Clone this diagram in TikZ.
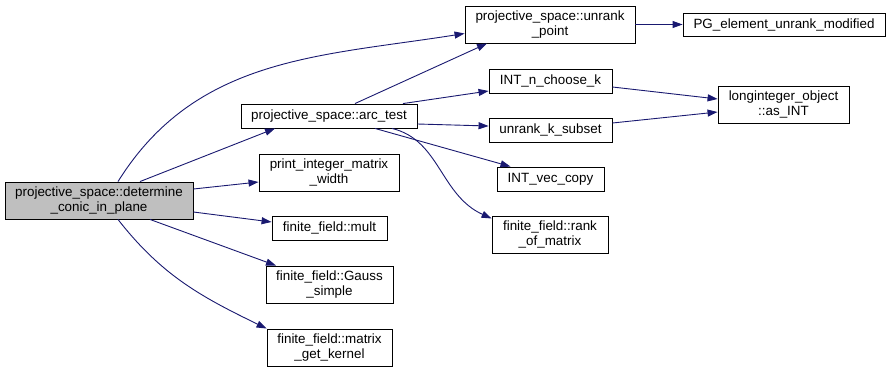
\documentclass[tikz,border=0pt]{standalone}
\usepackage{fontspec}
\setmainfont{Liberation Sans}
\usetikzlibrary{arrows.meta}
\definecolor{callblue}{HTML}{191970}
\definecolor{selgray}{HTML}{BFBFBF}
\begin{document}
\begin{tikzpicture}[x=1pt, y=1pt,
    fn/.style={draw=black, line width=0.9pt, fill=white, align=center, inner sep=2pt,
               font=\fontsize{13.4}{14.6}\selectfont},
    call/.style={draw=callblue, line width=0.9pt, -{Triangle[length=10pt,width=7pt]}}]
  \useasboundingbox (0,0) rectangle (890,-372);

  % Nodes (functions, one column per call depth)
  \node[fn, fill=selgray, minimum width=188, minimum height=37] (det) at (99,-200.5)
    {projective\_space::determine\\\_conic\_in\_plane};

  \node[fn, minimum width=176, minimum height=24] (arc) at (329,-116) {projective\_space::arc\_test};
  \node[fn, minimum width=140, minimum height=37] (prt) at (329,-172.5) {print\_integer\_matrix\\\_width};
  \node[fn, minimum width=115, minimum height=24] (mult) at (329.5,-228) {finite\_field::mult};
  \node[fn, minimum width=127, minimum height=37] (gauss) at (329.5,-284.5) {finite\_field::Gauss\\\_simple};
  \node[fn, minimum width=125, minimum height=37] (kern) at (329.5,-347.5) {finite\_field::matrix\\\_get\_kernel};

  \node[fn, minimum width=170, minimum height=37] (unrk) at (550,-24.5) {projective\_space::unrank\\\_point};
  \node[fn, minimum width=123, minimum height=24] (nck) at (550.5,-81) {INT\_n\_choose\_k};
  \node[fn, minimum width=123, minimum height=24] (uks) at (550.5,-130) {unrank\_k\_subset};
  \node[fn, minimum width=107, minimum height=24] (vec) at (550.5,-179) {INT\_vec\_copy};
  \node[fn, minimum width=116, minimum height=37] (rank) at (550,-234.5) {finite\_field::rank\\\_of\_matrix};

  \node[fn, minimum width=202, minimum height=23] (pg) at (784,-24.5) {PG\_element\_unrank\_modified};
  \node[fn, minimum width=131, minimum height=37] (lio) at (783.5,-104.5) {longinteger\_object\\::as\_INT};

  % Calls from determine_conic_in_plane
  \draw[call] ([xshift=19]det.north) to[out=58, in=189] ([yshift=-9]unrk.west);
  \draw[call] ([xshift=41]det.north) -- ([xshift=-54]arc.south);
  \draw[call] ([yshift=11.5]det.east) -- ([yshift=-9.5]prt.west);
  \draw[call] ([yshift=-11.5]det.east) -- ([yshift=6]mult.west);
  \draw[call] ([xshift=51]det.south) -- ([xshift=-53.5]gauss.north);
  \draw[call] ([xshift=19]det.south) to[out=-52, in=154] (kern.north west);

  % Calls from arc_test
  \draw[call] ([xshift=26]arc.north) -- ([xshift=-63]unrk.south);
  \draw[call] ([xshift=74]arc.north) -- ([yshift=-10]nck.west);
  \draw[call] ([yshift=-8]arc.east) -- ([yshift=4]uks.west);
  \draw[call] ([xshift=46]arc.south) -- ([xshift=-40]vec.north);
  \draw[call] ([xshift=63]arc.south) .. controls (440,-140) and (440,-195) .. ([yshift=16]rank.west);

  % Deepest calls
  \draw[call] (unrk.east) -- (pg.west);
  \draw[call] ([yshift=-6]nck.east) -- ([yshift=5.5]lio.west);
  \draw[call] ([yshift=7]uks.east) -- ([yshift=-7.5]lio.west);
\end{tikzpicture}
\end{document}
